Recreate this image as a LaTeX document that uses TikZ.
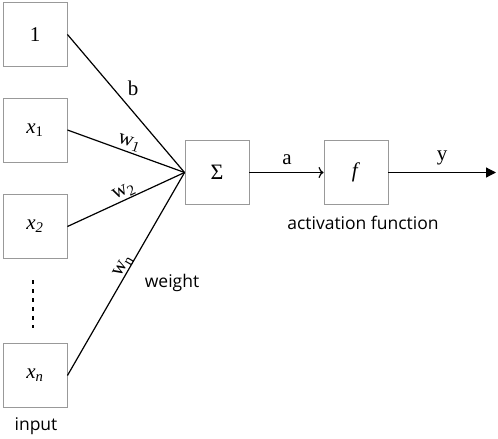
\documentclass[tikz,border=0pt]{standalone}
\usepackage{fontspec}
\setmainfont{Liberation Serif}
\newfontfamily\labelsans{Open Sans}
\usetikzlibrary{arrows.meta}
\begin{document}
\begin{tikzpicture}[x=1pt,y=-1pt,
  boxnode/.style={draw=black!40,line width=0.9pt,minimum width=64pt,minimum height=64pt,inner sep=0pt,font=\fontsize{21}{21}\selectfont},
  wire/.style={line width=1.2pt},
  lbl/.style={font=\fontsize{21}{21}\selectfont,inner sep=0pt},
  sanslbl/.style={font=\labelsans\fontsize{17.5}{18}\selectfont,inner sep=0pt}]
\useasboundingbox (0,0) rectangle (498,439);
\node[boxnode] (one) at (35,34.5) {1};
\node[boxnode] (x1) at (35,130) {\textit{x}\textsubscript{1}};
\node[boxnode] (x2) at (35,226.5) {\textit{x\textsubscript{2}}};
\node[boxnode] (xn) at (35,375.5) {\textit{x\textsubscript{n}}};
\node[boxnode] (sum) at (217,172.5) {\fontsize{22}{22}\selectfont Σ};
\node[boxnode] (f) at (356,172.5) {\textit{f}};
\coordinate (out) at (496,172.5);
\coordinate (d1) at (33,280);
\coordinate (d2) at (33,328);
\draw[line width=2.4pt,dash pattern=on 4pt off 5pt] (d1) -- (d2);
\draw[wire] (one.east) -- (sum.west);
\draw[wire] (x1.east) -- (sum.west);
\draw[wire] (x2.east) -- (sum.west);
\draw[wire] (xn.east) -- (sum.west);
\draw[wire,-{To[length=5pt,width=11pt]}] (sum.east) -- (f.west);
\draw[wire,-{Triangle[length=10pt,width=10pt]}] (f.east) -- (out);
\node[lbl] (lb) at (133,88) {b};
\node[lbl,rotate=-18] (lw1) at (129,143) {w\textsubscript{1}};
\node[lbl,rotate=26] (lw2) at (124,192) {w\textsubscript{2}};
\node[lbl,rotate=60] (lwn) at (123,266) {w\textsubscript{n}};
\node[lbl] (la) at (287,160) {a};
\node[lbl] (ly) at (442,158) {y};
\node[sanslbl] (weight) at (172,283) {weight};
\node[sanslbl] (input) at (36,426) {input};
\node[sanslbl] (act) at (363,223) {activation function};
\end{tikzpicture}
\end{document}
